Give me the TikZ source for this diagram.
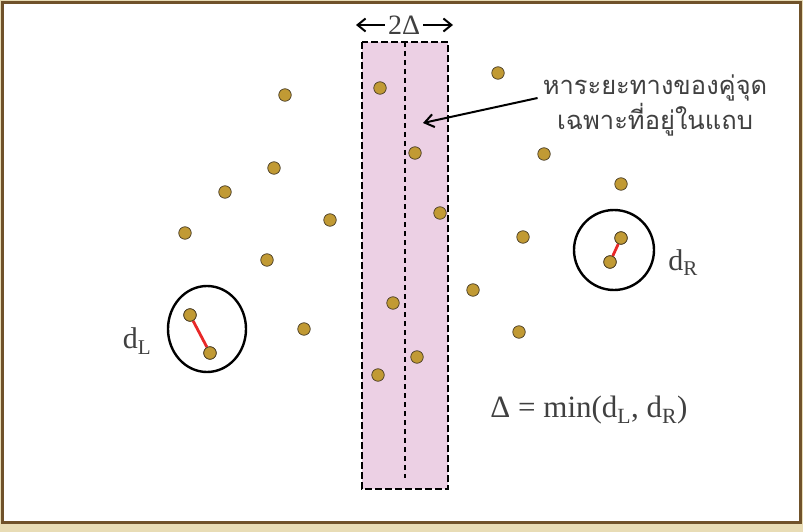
\documentclass[tikz,border=0pt]{standalone}
\usepackage{fontspec}
\setmainfont{Liberation Serif}
\newfontfamily\thaifont[Script=Thai]{Loma}
\usetikzlibrary{arrows.meta}
\definecolor{beige}{RGB}{232,220,181}
\definecolor{frame}{RGB}{112,82,42}
\definecolor{stripfill}{RGB}{236,208,228}
\definecolor{gold}{RGB}{193,154,52}
\definecolor{dotedge}{RGB}{70,58,36}
\definecolor{pairred}{RGB}{232,40,40}
\definecolor{labgrey}{RGB}{64,64,64}
\tikzset{
  dot/.style     = {circle, draw=dotedge, fill=gold, line width=0.7pt, minimum size=12.5pt, inner sep=0pt},
  ring/.style    = {draw=black, line width=2.4pt},
  pair/.style    = {draw=pairred, line width=2.8pt},
  stripbox/.style= {draw=black, fill=stripfill, line width=2.8pt, dash pattern=on 7pt off 3pt},
  midline/.style = {draw=black, line width=1.5pt, dash pattern=on 5pt off 4pt},
  dim/.style     = {-{Straight Barb[length=8pt,width=13pt,line width=2pt]}, draw=black, line width=2pt},
  pointer/.style = {-{Straight Barb[length=9pt,width=13pt,line width=2pt]}, draw=black, line width=2pt},
  lab/.style     = {font=\fontsize{30}{34}\selectfont, text=labgrey, inner sep=0pt},
  thai/.style    = {font=\thaifont\fontsize{25.5}{35}\selectfont, text=labgrey, align=center, inner sep=0pt},
}

\begin{document}
\begin{tikzpicture}[x=1pt, y=-1pt]
\useasboundingbox (0,0) rectangle (803,532);

% ======================================================= frame
\fill[beige] (0,0) rectangle (803,532);
\draw[frame, line width=3pt, fill=white] (2.5,2.5) rectangle (800.5,522.5);

% ======================================================= strip of width 2 delta
\draw[stripbox] (362,42) rectangle (448,489);
\draw[midline] (405,42) -- (405,478);

\node[lab, font=\fontsize{28}{32}\selectfont] (wlab) at (404,25) {2Δ};
\coordinate (sl) at (356,25);
\coordinate (sr) at (453,25);
\draw[dim] (wlab.west) ++(-3pt,0) coordinate (wl) (wl) -- (sl);
\draw[dim] (wlab.east) ++(3pt,0) coordinate (wr) (wr) -- (sr);

% ======================================================= points
\foreach \px/\py [count=\i] in {380/88, 285/95, 498/73, 415/153, 544/154, 274/168,
    225/192, 621/184, 440/213, 330/220, 185/233, 523/237, 267/260, 473/290,
    393/303, 304/329, 519/332, 417/357, 378/375}
  \node[dot] (p\i) at (\px,\py) {};

% ---- closest pair on the left
\draw[ring] (207,329) ellipse (39pt and 43pt);
\node[dot] (l1) at (190,315) {};
\node[dot] (l2) at (210,353) {};
\draw[pair] (l1) -- (l2);
\node[dot] at (190,315) {};
\node[dot] at (210,353) {};
\node[lab] (dl) at (137,341) {d\textsubscript{L}};

% ---- closest pair on the right
\draw[ring] (614,250) circle (40pt);
\node[dot] (r1) at (621,238) {};
\node[dot] (r2) at (610,262) {};
\draw[pair] (r1) -- (r2);
\node[dot] at (621,238) {};
\node[dot] at (610,262) {};
\node[lab] (dr) at (683,263) {d\textsubscript{R}};

% ======================================================= notes
\node[lab, font=\fontsize{31}{36}\selectfont] (delta) at (589,410) {Δ = min(d\textsubscript{L}, d\textsubscript{R})};

\node[thai] (note) at (655,105) {หาระยะทางของคู่จุด\\เฉพาะที่อยู่ในแถบ};
\coordinate (tgt) at (423,123);
\draw[pointer] (note.west) ++(-5pt,7pt) coordinate (ns) (ns) -- (tgt);

\end{tikzpicture}
\end{document}
